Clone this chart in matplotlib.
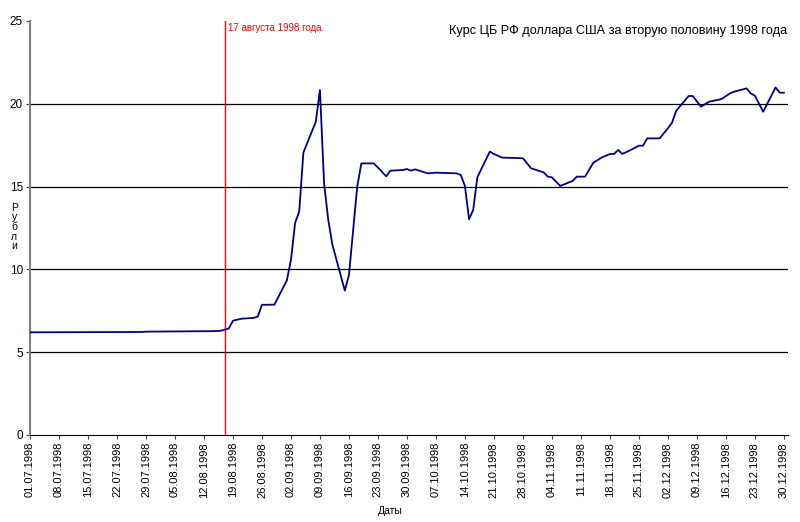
import matplotlib
matplotlib.use("Agg")
import matplotlib.pyplot as plt
import matplotlib.dates as mdates
import pandas as pd

# курс ЦБ РФ, руб. за доллар США
dates = [
    "01.07", "28.07", "29.07", "14.08", "16.08", "18.08", "19.08", "21.08",
    "24.08", "25.08", "26.08", "29.08", "01.09", "02.09", "03.09", "04.09",
    "05.09", "08.09", "09.09", "10.09", "11.09", "12.09", "15.09", "16.09",
    "18.09", "19.09", "22.09", "23.09", "25.09", "26.09", "29.09", "30.09",
    "01.10", "02.10", "05.10", "07.10", "12.10", "13.10", "14.10", "15.10",
    "16.10", "17.10", "20.10", "21.10", "23.10", "28.10", "30.10", "02.11",
    "03.11", "04.11", "06.11", "09.11", "10.11", "12.11", "14.11", "16.11",
    "18.11", "19.11", "20.11", "21.11", "23.11", "25.11", "26.11", "27.11",
    "30.11", "02.12", "03.12", "04.12", "07.12", "08.12", "10.12", "12.12",
    "14.12", "15.12", "17.12", "18.12", "21.12", "22.12", "23.12", "25.12",
    "28.12", "29.12", "30.12",
]
rates = [
    6.20, 6.22, 6.24, 6.27, 6.29, 6.43, 6.90, 7.02,
    7.07, 7.15, 7.86, 7.87, 9.33, 10.57, 12.80, 13.50,
    17.05, 18.92, 20.83, 15.20, 13.00, 11.50, 8.72, 9.66,
    15.00, 16.40, 16.40, 16.15, 15.62, 15.96, 16.00, 16.06,
    15.96, 16.04, 15.80, 15.84, 15.80, 15.70, 15.04, 13.03,
    13.59, 15.56, 17.11, 16.97, 16.75, 16.71, 16.10, 15.86,
    15.60, 15.56, 15.04, 15.34, 15.60, 15.60, 16.44, 16.75,
    16.97, 16.97, 17.21, 16.97, 17.21, 17.47, 17.47, 17.91,
    17.91, 18.52, 18.86, 19.57, 20.47, 20.47, 19.83, 20.13,
    20.23, 20.29, 20.63, 20.73, 20.93, 20.63, 20.49, 19.52,
    20.99, 20.67, 20.67,
]
crisis_date = "17.08"
crisis_label = "17 августа 1998 года."
title = "Курс ЦБ РФ доллара США за вторую половину 1998 года"
yticks = [0, 5, 10, 15, 20, 25]

plt.rcParams['font.family'] = ['Liberation Sans', 'DejaVu Sans']

x = pd.to_datetime([d + ".1998" for d in dates], format="%d.%m.%Y")
crisis = pd.to_datetime(crisis_date + ".1998", format="%d.%m.%Y")
xticks = pd.date_range("1998-07-01", "1998-12-30", freq="7D")

fig = plt.figure(figsize=(8.0, 5.22), dpi=100)
ax = fig.add_axes([0.0375, 0.1667, 0.9475, 0.7931])

for v in yticks[1:-1]:
    ax.axhline(v, color='black', linewidth=0.9, zorder=1)

ax.plot(x, rates, color='#000080', linewidth=1.3, zorder=3)

ax.axvline(crisis, color='red', linewidth=1.0, zorder=2)
ax.text(crisis + pd.Timedelta(days=0.7), 24.9, crisis_label, color='red',
        fontsize=7, ha='left', va='top')

ax.set_xlim(pd.Timestamp("1998-07-01"), pd.Timestamp("1998-12-31"))
ax.set_ylim(0, 25)
ax.set_yticks(yticks)
ax.set_xticks(xticks)
ax.xaxis.set_major_formatter(mdates.DateFormatter('%d.%m.%Y'))
ax.tick_params(axis='x', labelrotation=90, labelsize=8, length=3,
               pad=2, color='#444444')
ax.tick_params(axis='y', labelsize=8.5, length=3, pad=2, color='#444444')

ax.spines['right'].set_visible(False)
ax.spines['top'].set_visible(False)
ax.spines['left'].set_color('#808080')
ax.spines['left'].set_linewidth(1.5)
ax.spines['bottom'].set_color('black')

fig.text(0.984, 0.94, title, fontsize=9.2, ha='right', va='center')
fig.text(0.488, 0.022, "Даты", fontsize=7.5, ha='center', va='center')
fig.text(0.018, 0.565, "Р\nу\nб\nл\nи", fontsize=7.5, ha='center',
         va='center', linespacing=0.95)

fig.savefig("out.png", dpi=100)
